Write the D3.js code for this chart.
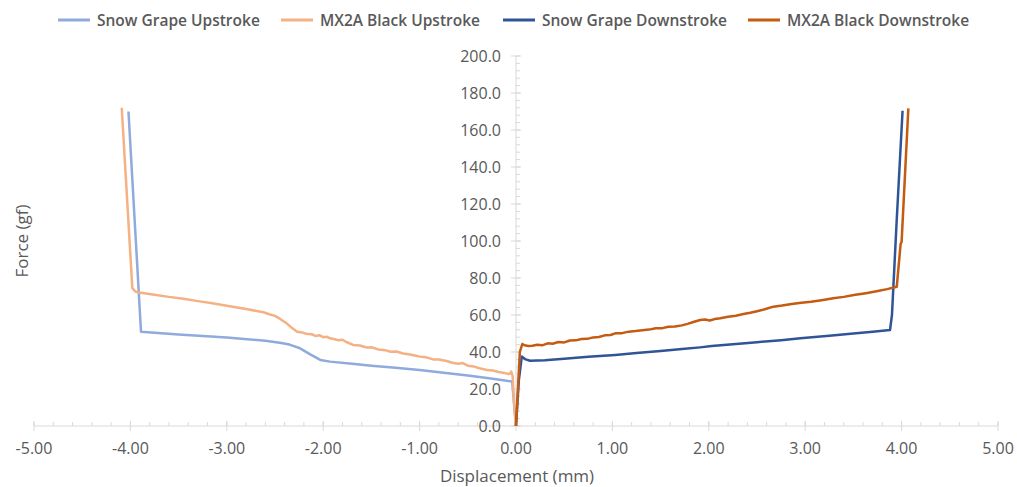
<!DOCTYPE html>
<html><head><meta charset="utf-8">
<script src="https://cdn.jsdelivr.net/npm/d3@7"></script>
<style>body{margin:0;background:#fff}svg{display:block}</style>
</head><body>
<svg id="c" width="1017" height="487"></svg>
<script>
const seriesNames = ["Snow Grape Upstroke","MX2A Black Upstroke","Snow Grape Downstroke","MX2A Black Downstroke"];
const seriesColors = ["#8faadc","#f4b183","#2f5597","#c55a11"];
const xTicks = [-5,-4,-3,-2,-1,0,1,2,3,4,5];
const yTicks = [0,20,40,60,80,100,120,140,160,180,200];

const snowUp = [[-4.02,170],[-3.89,51],[-3.5,49.4],[-3.0,47.8],[-2.6,46.1],[-2.45,45],[-2.35,44],[-2.24,42],[-2.13,38.6],[-2.03,35.7],[-1.93,34.8],[-1.7,33.6],[-1.5,32.6],[-1.25,31.5],[-1.0,30.3],[-0.75,28.8],[-0.5,27.3],[-0.3,26],[-0.15,24.9],[-0.08,24.3],[-0.04,24.1],[-0.02,12],[0,0]];
const mxUp = [[-4.09,172],[-3.98,74.5],[-3.95,72.8],[-3.93,72.3],[-3.75,71],[-3.6,69.8],[-3.45,68.8],[-3.3,67.5],[-3.15,66.3],[-3.0,65],[-2.8,63.2],[-2.62,61.5],[-2.55,60.3],[-2.5,59.5],[-2.45,58],[-2.38,55.5],[-2.34,53.7],[-2.27,51],[-2.22,50.6],[-2.18,49.9],[-2.12,49.6],[-2.08,48.7],[-2.04,49.1],[-2.0,48],[-1.96,48.2],[-1.93,47.4],[-1.88,46.9],[-1.84,46.3],[-1.8,46.6],[-1.76,45.4],[-1.69,43.8],[-1.62,43.5],[-1.55,42.4],[-1.5,42.6],[-1.43,41.4],[-1.36,41],[-1.3,40.1],[-1.24,40.3],[-1.17,39.2],[-1.1,38.6],[-1.05,38.1],[-1.0,37.5],[-0.93,37.1],[-0.86,36],[-0.8,35.9],[-0.72,35.1],[-0.66,34.2],[-0.6,33.6],[-0.55,34],[-0.5,32.6],[-0.44,32.2],[-0.38,31.2],[-0.3,30.3],[-0.24,30],[-0.18,29.2],[-0.12,28.7],[-0.08,28.1],[-0.06,28.4],[-0.05,29.4],[-0.035,27],[-0.02,12],[-0.005,2],[0,0]];
const snowDown = [[0,0],[0.03,25],[0.06,37.5],[0.1,36],[0.145,35.3],[0.3,35.6],[0.5,36.4],[0.75,37.4],[1.03,38.4],[1.25,39.4],[1.5,40.5],[1.75,41.7],[1.91,42.5],[2.03,43.2],[2.25,44.2],[2.5,45.3],[2.75,46.4],[2.95,47.4],[3.25,48.8],[3.5,50],[3.7,51],[3.88,51.9],[3.9,60],[3.95,112],[4.01,170.4]];
const mxDown = [[0,0],[0.02,20],[0.04,40],[0.065,44.3],[0.1,43.5],[0.13,43.2],[0.17,43.4],[0.22,43.9],[0.27,43.6],[0.33,44.7],[0.38,44.5],[0.44,45.4],[0.5,45.2],[0.56,46.2],[0.62,46.3],[0.68,47],[0.74,47.1],[0.8,47.9],[0.86,48.1],[0.92,49],[0.98,49.2],[1.03,50.1],[1.1,50.2],[1.17,51],[1.24,51.3],[1.31,51.8],[1.38,52.1],[1.45,52.8],[1.52,52.9],[1.58,53.6],[1.65,53.8],[1.72,54.4],[1.78,55.2],[1.84,56.2],[1.91,57.3],[1.96,57.6],[2.01,57],[2.06,57.8],[2.12,58.2],[2.2,59.1],[2.28,59.6],[2.36,60.5],[2.43,61.2],[2.5,62],[2.58,63.1],[2.67,64.5],[2.76,65.1],[2.86,65.9],[2.96,66.6],[3.06,67.2],[3.17,68],[3.29,69],[3.4,69.8],[3.52,70.9],[3.63,71.8],[3.74,72.8],[3.85,74],[3.95,75.3],[3.99,98.4],[4.0,99.5],[4.07,171.7]];
const allSeries = [snowUp, mxUp, snowDown, mxDown];

const svg = d3.select("#c");
const font = "'Open Sans', 'Noto Sans', sans-serif";
const x = d3.scaleLinear().domain([-5,5]).range([34,998]);
const y = d3.scaleLinear().domain([0,200]).range([426,56]);
const axisColor = "#d9d9d9", textColor = "#595959";

const gx = svg.append("g");
d3.range(-5,5.001,0.2).forEach(v=>{
  gx.append("line").attr("x1",x(v)).attr("x2",x(v)).attr("y1",y(0)-4).attr("y2",y(0)).attr("stroke",axisColor);
});
xTicks.forEach(v=>{
  gx.append("line").attr("x1",x(v)).attr("x2",x(v)).attr("y1",y(0)-5).attr("y2",y(0)+5).attr("stroke",axisColor);
  gx.append("text").attr("x",x(v)).attr("y",y(0)+28).attr("text-anchor","middle")
    .attr("font-family",font).attr("font-size",16).attr("fill",textColor).text(d3.format(".2f")(v).replace("−","-"));
});
gx.append("line").attr("x1",x(-5)).attr("x2",x(5)).attr("y1",y(0)).attr("y2",y(0)).attr("stroke",axisColor);

const gy = svg.append("g");
d3.range(0,200.001,4).forEach(v=>{
  gy.append("line").attr("x1",x(0)).attr("x2",x(0)+4).attr("y1",y(v)).attr("y2",y(v)).attr("stroke",axisColor);
});
yTicks.forEach(v=>{
  gy.append("line").attr("x1",x(0)-5).attr("x2",x(0)+5).attr("y1",y(v)).attr("y2",y(v)).attr("stroke",axisColor);
  gy.append("text").attr("x",x(0)-15).attr("y",y(v)+6).attr("text-anchor","end")
    .attr("font-family",font).attr("font-size",16).attr("fill",textColor).text(d3.format(".1f")(v));
});
gy.append("line").attr("x1",x(0)).attr("x2",x(0)).attr("y1",y(0)).attr("y2",y(200)).attr("stroke",axisColor);

const line = d3.line().x(d=>x(d[0])).y(d=>y(d[1]));
allSeries.forEach((s,i)=>{
  svg.append("path").datum(s).attr("d",line).attr("fill","none")
    .attr("stroke",seriesColors[i]).attr("stroke-width",2.5).attr("stroke-linejoin","round");
});

svg.append("text").attr("x",517).attr("y",482).attr("text-anchor","middle")
  .attr("font-family",font).attr("font-size",17).attr("font-weight",500).attr("fill",textColor).text("Displacement (mm)");
svg.append("text").attr("transform","translate(28,241) rotate(-90)").attr("text-anchor","middle")
  .attr("font-family",font).attr("font-size",17).attr("font-weight",500).attr("fill",textColor).text("Force (gf)");

const legX = [58,281,503,748];
seriesNames.forEach((n,i)=>{
  svg.append("line").attr("x1",legX[i]).attr("x2",legX[i]+32).attr("y1",20).attr("y2",20)
    .attr("stroke",seriesColors[i]).attr("stroke-width",3);
  svg.append("text").attr("x",legX[i]+39).attr("y",25.5).attr("font-family",font).attr("font-size",15.5)
    .attr("font-weight",600).attr("fill",textColor).text(n);
});
</script>
</body></html>
